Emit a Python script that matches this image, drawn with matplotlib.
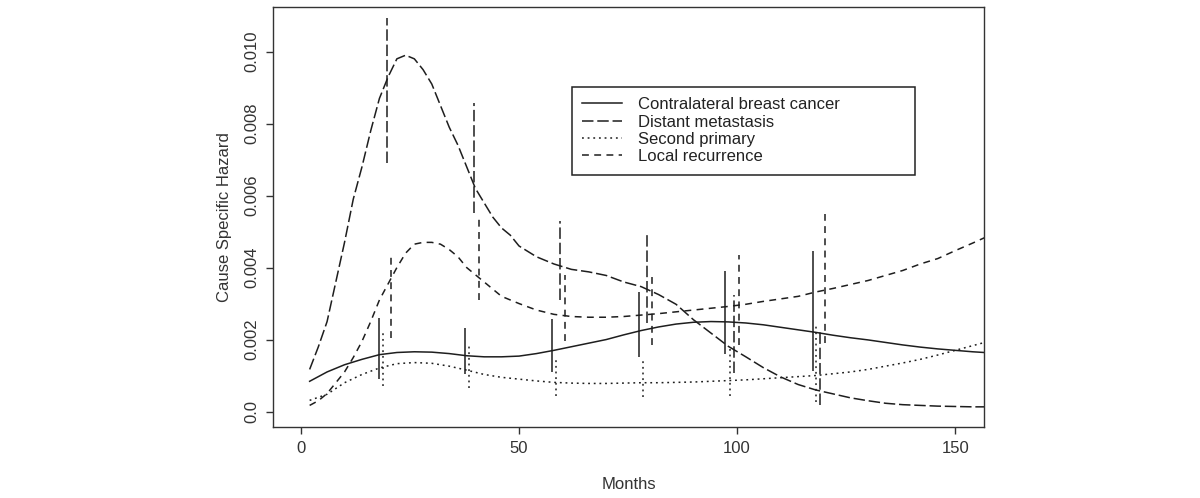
import matplotlib
matplotlib.use('Agg')
import matplotlib.pyplot as plt
from matplotlib.lines import Line2D

plt.rcParams['font.family'] = ['Liberation Sans', 'DejaVu Sans']

# --- curves (months, hazard) ---
contra_x = [2, 6, 10, 14, 18, 22, 26, 30, 34, 38, 42, 46, 50, 54, 58, 62, 66, 70, 74, 78,
            82, 86, 90, 94, 98, 102, 106, 110, 114, 118, 122, 126, 130, 134, 138, 142, 146,
            150, 154, 158]
contra_y = [0.00084, 0.0011, 0.0013, 0.00145, 0.00158, 0.00164, 0.00166, 0.00165, 0.00161,
            0.00155, 0.00152, 0.00152, 0.00154, 0.00161, 0.0017, 0.0018, 0.0019, 0.002,
            0.00213, 0.00225, 0.00235, 0.00243, 0.00248, 0.0025, 0.00249, 0.00246, 0.00241,
            0.00234, 0.00227, 0.0022, 0.00212, 0.00205, 0.00199, 0.00192, 0.00185, 0.00179,
            0.00174, 0.0017, 0.00166, 0.00163]

meta_x = [2, 4, 6, 8, 10, 12, 14, 16, 18, 20, 22, 24, 26, 28, 30, 32, 34, 36, 38, 40, 42,
          44, 46, 48, 50, 54, 58, 62, 66, 70, 74, 78, 82, 86, 90, 94, 98, 102, 106, 110,
          114, 118, 122, 126, 130, 134, 138, 142, 146, 150, 154, 158]
meta_y = [0.00117, 0.0018, 0.0025, 0.0036, 0.0047, 0.0059, 0.0068, 0.0078, 0.0087, 0.0093,
          0.0098, 0.0099, 0.0098, 0.0095, 0.0091, 0.0085, 0.0079, 0.0074, 0.0068, 0.0062,
          0.0058, 0.0054, 0.0051, 0.0049, 0.0046, 0.0043, 0.0041, 0.00395, 0.00388, 0.00378,
          0.0036, 0.00347, 0.00325, 0.00298, 0.00255, 0.00218, 0.00181, 0.00152, 0.00122,
          0.00096, 0.00075, 0.0006, 0.00049, 0.00038, 0.0003, 0.00023, 0.00019, 0.00017,
          0.00015, 0.00014, 0.00013, 0.00013]

second_x = [2, 6, 10, 14, 18, 22, 26, 30, 34, 38, 42, 46, 50, 54, 58, 62, 66, 70, 74, 78,
            82, 86, 90, 94, 98, 102, 106, 110, 114, 118, 122, 126, 130, 134, 138, 142, 146,
            150, 154, 158]
second_y = [0.00031, 0.00048, 0.0008, 0.00103, 0.00121, 0.00133, 0.00136, 0.00134, 0.00126,
            0.00115, 0.00103, 0.00095, 0.0009, 0.00085, 0.00081, 0.00079, 0.00078, 0.00078,
            0.00079, 0.0008, 0.0008, 0.00081, 0.00082, 0.00084, 0.00086, 0.00088, 0.00091,
            0.00094, 0.00097, 0.001, 0.00105, 0.0011, 0.00117, 0.00126, 0.00135, 0.00145,
            0.00157, 0.0017, 0.00183, 0.00196]

local_x = [2, 4, 6, 8, 10, 12, 14, 16, 18, 20, 22, 24, 26, 28, 30, 32, 34, 36, 38, 40, 42,
           44, 46, 48, 50, 54, 58, 62, 66, 70, 74, 78, 82, 86, 90, 94, 98, 102, 106, 110,
           114, 118, 122, 126, 130, 134, 138, 142, 146, 150, 154, 158]
local_y = [0.00017, 0.0003, 0.0005, 0.0008, 0.0011, 0.0015, 0.00195, 0.0025, 0.0031, 0.00355,
           0.004, 0.0044, 0.00465, 0.0047, 0.0047, 0.00465, 0.0045, 0.0043, 0.004, 0.0038,
           0.0036, 0.0034, 0.0032, 0.0031, 0.003, 0.00282, 0.0027, 0.00264, 0.00262, 0.00262,
           0.00264, 0.00268, 0.00272, 0.00277, 0.00282, 0.00287, 0.00292, 0.00298, 0.00306,
           0.00313, 0.0032, 0.00332, 0.00342, 0.00353, 0.00364, 0.00378, 0.00392, 0.0041,
           0.00425, 0.00447, 0.00468, 0.0049]

# --- confidence bars (month, lower, upper) ---
contra_bx = [17.8, 37.6, 57.6, 77.5, 97.3, 117.3]
contra_lo = [0.0009, 0.00103, 0.00109, 0.00152, 0.00161, 0.00112]
contra_hi = [0.0026, 0.00232, 0.00256, 0.00331, 0.0039, 0.00445]

second_bx = [18.8, 38.6, 58.4, 78.5, 98.4, 118.1]
second_lo = [0.0007, 0.00066, 0.00043, 0.0004, 0.00043, 0.00027]
second_hi = [0.00219, 0.0019, 0.00149, 0.00147, 0.00181, 0.00237]

meta_bx = [19.7, 39.7, 59.5, 79.3, 99.4, 119.1]
meta_lo = [0.0069, 0.00553, 0.0031, 0.00246, 0.00107, 0.00019]
meta_hi = [0.01093, 0.00858, 0.0053, 0.005, 0.00325, 0.00223]

local_bx = [20.7, 40.9, 60.5, 80.4, 100.5, 120.2]
local_lo = [0.00205, 0.00311, 0.00195, 0.00186, 0.00186, 0.0019]
local_hi = [0.00436, 0.00543, 0.0038, 0.00376, 0.00436, 0.0055]

labels = ['Contralateral breast cancer', 'Distant metastasis', 'Second primary',
          'Local recurrence']
yticks = [0.0, 0.002, 0.004, 0.006, 0.008, 0.010]
ytick_labels = ['0.0', '0.002', '0.004', '0.006', '0.008', '0.010']
xticks = [0, 50, 100, 150]

ink = '#1e1e1e'
lw = 1.1
styles = ['-', (0, (7.5, 2.5)), (0, (1.2, 2.5)), (0, (4.5, 3.5))]

fig = plt.figure(figsize=(12, 4.98), dpi=100)
ax = fig.add_axes([273 / 1200, 71 / 498, 711 / 1200, 420 / 498])

series = [
    (contra_x, contra_y, contra_bx, contra_lo, contra_hi),
    (meta_x, meta_y, meta_bx, meta_lo, meta_hi),
    (second_x, second_y, second_bx, second_lo, second_hi),
    (local_x, local_y, local_bx, local_lo, local_hi),
]
for (x, y, bx, lo, hi), ls in zip(series, styles):
    ax.plot(x, y, color=ink, lw=lw, linestyle=ls)
    ax.vlines(bx, lo, hi, colors=ink, lw=lw, linestyles=[ls])

ax.set_xlim(-6.4, 156.6)
ax.set_ylim(-0.00043, 0.01124)
ax.set_xticks(xticks)
ax.set_xticklabels([str(t) for t in xticks])
ax.set_yticks(yticks)
ax.set_yticklabels(ytick_labels, rotation=90, va='center')

for s in ax.spines.values():
    s.set_color('#333333')
    s.set_linewidth(1.0)
ax.tick_params(direction='out', length=5, width=1.0, colors='#333333',
               labelsize=12, labelcolor='#333333', pad=5)

ax.set_xlabel('Months', fontsize=12, color='#333333', labelpad=15)
ax.set_ylabel('Cause Specific Hazard', fontsize=12, color='#333333', labelpad=9)

handles = [Line2D([], [], color=ink, lw=lw, linestyle=ls) for ls in styles]
leg = ax.legend(handles, labels, loc='upper left',
                bbox_to_anchor=((572 - 273) / 711, (427 - 175) / 420,
                                343 / 711, 88 / 420),
                mode='expand', borderaxespad=0, fancybox=False, framealpha=1,
                edgecolor='#222222', fontsize=12, handlelength=2.35,
                handletextpad=1.0, labelspacing=0.14, borderpad=0.62)
leg.get_frame().set_linewidth(1.1)
for t in leg.get_texts():
    t.set_color('#222222')

fig.savefig('out.png', dpi=100, facecolor='white')
